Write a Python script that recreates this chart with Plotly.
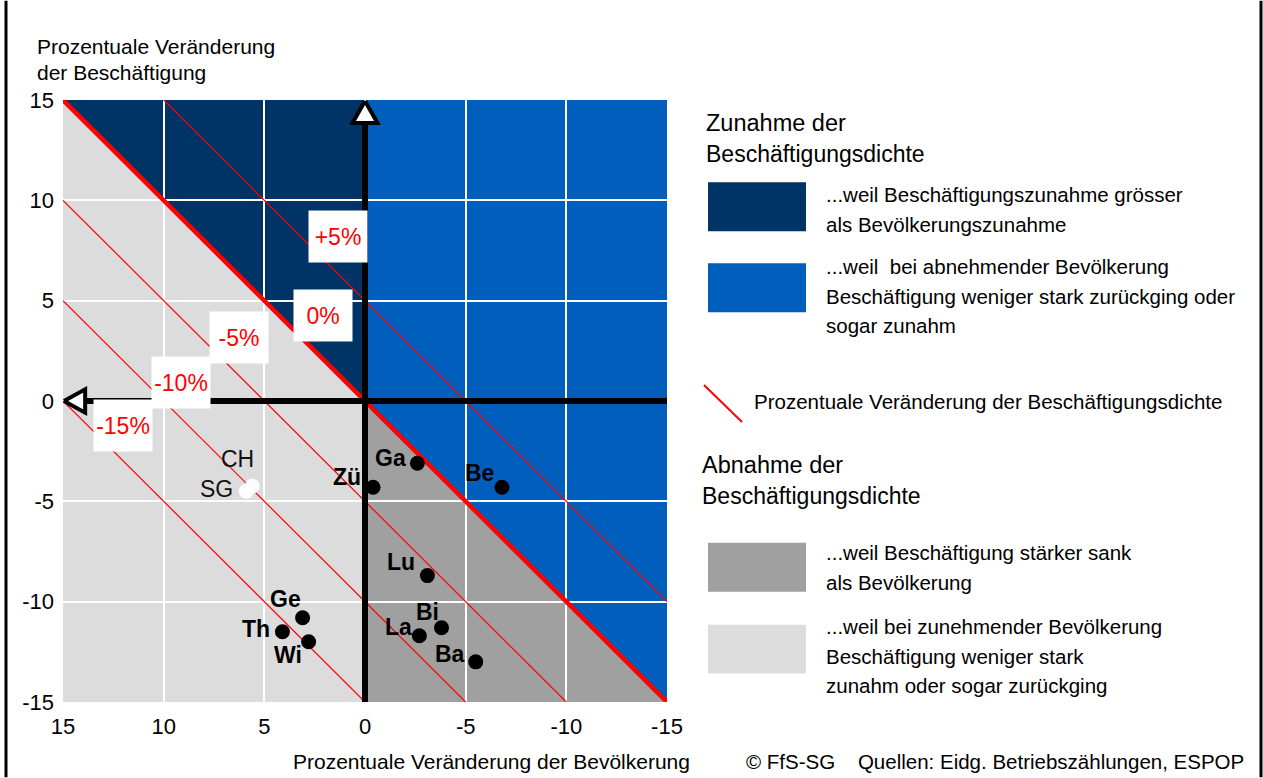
import plotly.graph_objects as go

# ---------------- data ----------------
regions = ["Ga", "Zü", "Be", "Lu", "Bi", "La", "Ba", "Ge", "Th", "Wi"]
pop_change = [-2.6, -0.4, -6.8, -3.1, -3.8, -2.7, -5.5, 3.1, 4.1, 2.8]
emp_change = [-3.1, -4.3, -4.3, -8.7, -11.3, -11.7, -13.0, -10.8, -11.5, -12.0]

ref_names = ["CH", "SG"]
ref_pop = [5.6, 5.9]
ref_emp = [-4.25, -4.5]

density_levels = [5, 0, -5, -10, -15]
density_labels = ["+5%", "0%", "-5%", "-10%", "-15%"]

tick_vals = [15, 10, 5, 0, -5, -10, -15]
tick_text = ["15", "10", "5", "0", "-5", "-10", "-15"]

# ---------------- styling / placement ----------------
R = 15
FONT = "Arial, Liberation Sans, sans-serif"
NAVY, BLUE, DGRAY, LGRAY = "#003366", "#005FBC", "#A0A0A0", "#DCDCDC"
W, H = 1263, 778
PL, PR, PT, PB = 63, 667, 99.5, 702.5
TXT = 20.5

def pxx(x):
    return (x - PL) / (PR - PL)

def pxy(y):
    return (PB - y) / (PB - PT)

# label offsets (pixels) for point names
label_shift = {
    "Ga": (-27, 5), "Zü": (-26, 10), "Be": (-22, 14), "Lu": (-26, 14),
    "Bi": (-14, 16), "La": (-21, 9), "Ba": (-26, 8), "Ge": (-17, 19),
    "Th": (-26, 3), "Wi": (-21, -13), "CH": (-15, 27), "SG": (-30, 2),
}
# percent label box centres (data coords)
level_label_pos = [(1.32, 8.2), (2.11, 4.28), (6.24, 3.16), (9.13, 0.9), (12.0, -1.24)]

fig = go.Figure()

# background regions (below grid)
shapes = [
    dict(type="path", path=f"M {R},{R} L 0,{R} L 0,0 Z", fillcolor=NAVY),
    dict(type="path", path=f"M 0,{R} L {-R},{R} L {-R},{-R} L 0,0 Z", fillcolor=BLUE),
    dict(type="path", path=f"M 0,0 L {-R},{-R} L 0,{-R} Z", fillcolor=DGRAY),
    dict(type="path", path=f"M {R},{R} L 0,0 L 0,{-R} L {R},{-R} Z", fillcolor=LGRAY),
]
shapes = [dict(s, xref="x", yref="y", layer="below", line=dict(width=0)) for s in shapes]

# density lines y = x + c
for c in density_levels:
    x0 = min(R, R - c)
    x1 = max(-R, -R - c)
    fig.add_trace(go.Scatter(
        x=[x0, x1], y=[x0 + c, x1 + c], mode="lines",
        line=dict(color="#FF0000", width=4.5 if c == 0 else 1.2),
        hoverinfo="skip", showlegend=False))

# black axes
fig.add_trace(go.Scatter(x=[0, 0], y=[-R, R - 1.2], mode="lines",
                         line=dict(color="black", width=6), showlegend=False, hoverinfo="skip"))
fig.add_trace(go.Scatter(x=[R - 1.15, -R], y=[0, 0], mode="lines",
                         line=dict(color="black", width=6), showlegend=False, hoverinfo="skip"))
# arrow heads
fig.add_trace(go.Scatter(x=[0, 0.62, -0.62, 0], y=[R - 0.05, R - 1.15, R - 1.15, R - 0.05],
                         mode="lines", fill="toself", fillcolor="white",
                         line=dict(color="black", width=4), showlegend=False, hoverinfo="skip"))
fig.add_trace(go.Scatter(x=[R - 0.05, R - 1.1, R - 1.1, R - 0.05], y=[0, 0.58, -0.58, 0],
                         mode="lines", fill="toself", fillcolor="white",
                         line=dict(color="black", width=4), showlegend=False, hoverinfo="skip"))

# points
fig.add_trace(go.Scatter(x=ref_pop, y=ref_emp, mode="markers",
                         marker=dict(color="white", size=15), showlegend=False))
fig.add_trace(go.Scatter(x=pop_change, y=emp_change, mode="markers",
                         marker=dict(color="black", size=15), showlegend=False))

annotations = []
for n, x, y in zip(regions, pop_change, emp_change):
    dx, dy = label_shift[n]
    annotations.append(dict(x=x, y=y, xref="x", yref="y", text=f"<b>{n}</b>", showarrow=False,
                            xshift=dx, yshift=dy, font=dict(size=23, color="black", family=FONT)))
for n, x, y in zip(ref_names, ref_pop, ref_emp):
    dx, dy = label_shift[n]
    annotations.append(dict(x=x, y=y, xref="x", yref="y", text=n, showarrow=False,
                            xshift=dx, yshift=dy, font=dict(size=23, color="#111111", family=FONT)))
for lab, (x, y) in zip(density_labels, level_label_pos):
    annotations.append(dict(x=x, y=y, xref="x", yref="y", text=lab, showarrow=False,
                            bgcolor="white", width=58, height=51, borderpad=0,
                            align="center", valign="middle",
                            font=dict(size=23, color="#FF0000", family=FONT)))

def txt(x, y, s, size=TXT, anchor="left", color="black"):
    annotations.append(dict(x=pxx(x), y=pxy(y), xref="paper", yref="paper", text=s,
                            showarrow=False, xanchor=anchor, yanchor="middle",
                            font=dict(size=size, color=color, family=FONT)))

# axis titles
txt(35, 46, "Prozentuale Veränderung", 21)
txt(35, 72, "der Beschäftigung", 21)
txt(692, 762, "Prozentuale Veränderung der Bevölkerung", 21, anchor="right")
txt(744, 762, "© FfS-SG&nbsp;&nbsp;&nbsp;&nbsp;Quellen: Eidg. Betriebszählungen, ESPOP", 20.5)

# legend
txt(704, 123, "Zunahme der", 23.5)
txt(704, 154, "Beschäftigungsdichte", 23)
txt(824, 194, "...weil Beschäftigungszunahme grösser")
txt(824, 224, "als Bevölkerungszunahme")
txt(824, 266, "...weil&nbsp;&nbsp;bei abnehmender Bevölkerung")
txt(824, 296, "Beschäftigung weniger stark zurückging oder")
txt(824, 325, "sogar zunahm")
txt(752, 402, "Prozentuale Veränderung der Beschäftigungsdichte")
txt(700, 465, "Abnahme der", 23.5)
txt(700, 496, "Beschäftigungsdichte", 23)
txt(824, 553, "...weil Beschäftigung stärker sank")
txt(824, 583, "als Bevölkerung")
txt(824, 627, "...weil bei zunehmender Bevölkerung")
txt(824, 657, "Beschäftigung weniger stark")
txt(824, 686, "zunahm oder sogar zurückging")

for (y0, y1, col) in [(182, 231, NAVY), (263, 312, BLUE), (543, 592, DGRAY), (625, 674, LGRAY)]:
    shapes.append(dict(type="rect", xref="paper", yref="paper", x0=pxx(708), x1=pxx(806),
                       y0=pxy(y1), y1=pxy(y0), fillcolor=col, line=dict(width=0), layer="above"))
shapes.append(dict(type="line", xref="paper", yref="paper", x0=pxx(704), y0=pxy(385),
                   x1=pxx(742), y1=pxy(422), line=dict(color="#FF0000", width=2)))
# frame lines
for xf in (6, 1261):
    shapes.append(dict(type="line", xref="paper", yref="paper", x0=pxx(xf), x1=pxx(xf),
                       y0=pxy(H), y1=pxy(0), line=dict(color="black", width=3)))

fig.update_layout(
    width=W, height=H, autosize=False,
    margin=dict(l=PL, r=W - PR, t=PT, b=H - PB),
    paper_bgcolor="white", plot_bgcolor="white",
    shapes=shapes, annotations=annotations,
    font=dict(family=FONT, color="black"),
    showlegend=False,
)
fig.update_xaxes(range=[R, -R], tickvals=tick_vals, ticktext=tick_text, showgrid=True,
                 gridcolor="white", gridwidth=1.5, zeroline=False, showline=False,
                 ticks="", ticklabelstandoff=9,
                 tickfont=dict(size=22, family=FONT, color="black"), fixedrange=True)
fig.update_yaxes(range=[-R, R], tickvals=tick_vals, ticktext=tick_text, showgrid=True,
                 gridcolor="white", gridwidth=1.5, zeroline=False, showline=False,
                 ticks="", ticklabelstandoff=8,
                 tickfont=dict(size=22, family=FONT, color="black"), fixedrange=True)

fig.write_html("out.html", config={"displayModeBar": False},
               post_script="document.body.style.margin='0';document.body.style.overflow='hidden';")
